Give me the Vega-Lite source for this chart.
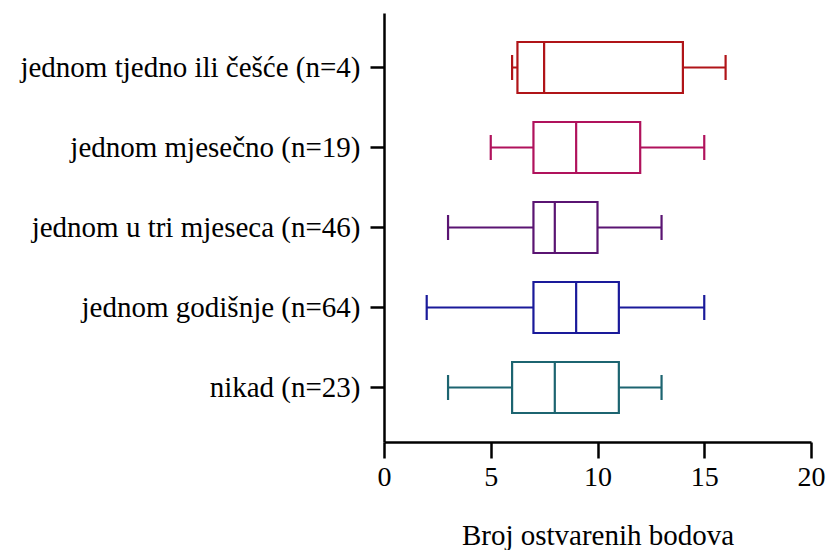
{
  "$schema": "https://vega.github.io/schema/vega-lite/v6.json",
  "autosize": "none",
  "width": 427,
  "height": 429,
  "padding": {"left": 384, "top": 13, "right": 15, "bottom": 108},
  "background": "white",
  "config": {
    "view": {"stroke": null},
    "font": "Liberation Serif",
    "axis": {"grid": false, "domainColor": "black", "tickColor": "black", "labelColor": "black", "titleColor": "black", "labelFont": "Liberation Serif", "titleFont": "Liberation Serif", "titleFontWeight": "normal", "domainWidth": 2.5, "tickWidth": 2.5}
  },
  "data": {"values": [
    {"cat": "jednom tjedno ili češće (n=4)", "min": 6, "q1": 6.25, "median": 7.5, "q3": 14, "max": 16},
    {"cat": "jednom mjesečno (n=19)", "min": 5, "q1": 7, "median": 9, "q3": 12, "max": 15},
    {"cat": "jednom u tri mjeseca (n=46)", "min": 3, "q1": 7, "median": 8, "q3": 10, "max": 13},
    {"cat": "jednom godišnje (n=64)", "min": 2, "q1": 7, "median": 9, "q3": 11, "max": 15},
    {"cat": "nikad (n=23)", "min": 3, "q1": 6, "median": 8, "q3": 11, "max": 13}
  ]},
  "encoding": {
    "y": {"field": "cat", "type": "nominal", "sort": null,
      "scale": {"paddingInner": 0.3625, "paddingOuter": 0.3625},
      "axis": {"title": null, "labelFontSize": 29, "tickSize": 14, "labelPadding": 10, "labelLimit": 400}},
    "color": {"field": "cat", "type": "nominal", "sort": null, "legend": null,
      "scale": {"domain": ["jednom tjedno ili češće (n=4)", "jednom mjesečno (n=19)", "jednom u tri mjeseca (n=46)", "jednom godišnje (n=64)", "nikad (n=23)"],
                "range": ["#B01418", "#B0125C", "#5A1472", "#1A1A9A", "#1C6470"]}}
  },
  "layer": [
    {"mark": {"type": "rule", "strokeWidth": 2.2, "opacity": 1},
     "encoding": {"x": {"field": "min", "type": "quantitative", "scale": {"domain": [0, 20], "nice": false},
        "axis": {"title": "Broj ostvarenih bodova", "values": [0, 5, 10, 15, 20], "labelFontSize": 28, "titleFontSize": 29, "tickSize": 16, "labelPadding": 5, "titlePadding": 30, "labelFlush": false}},
      "x2": {"field": "max"}}},
    {"mark": {"type": "bar", "fill": "white", "strokeWidth": 2.2, "opacity": 1, "fillOpacity": 1},
     "encoding": {"x": {"field": "q1", "type": "quantitative"}, "x2": {"field": "q3"},
       "stroke": {"field": "cat", "type": "nominal", "sort": null, "legend": null,
         "scale": {"domain": ["jednom tjedno ili češće (n=4)", "jednom mjesečno (n=19)", "jednom u tri mjeseca (n=46)", "jednom godišnje (n=64)", "nikad (n=23)"],
                "range": ["#B01418", "#B0125C", "#5A1472", "#1A1A9A", "#1C6470"]}}}},
    {"mark": {"type": "tick", "thickness": 2.2, "size": 51, "orient": "vertical", "opacity": 1},
     "encoding": {"x": {"field": "median", "type": "quantitative"}}},
    {"mark": {"type": "tick", "thickness": 2.2, "size": 25, "orient": "vertical", "opacity": 1},
     "encoding": {"x": {"field": "min", "type": "quantitative"}}},
    {"mark": {"type": "tick", "thickness": 2.2, "size": 25, "orient": "vertical", "opacity": 1},
     "encoding": {"x": {"field": "max", "type": "quantitative"}}}
  ]
}
